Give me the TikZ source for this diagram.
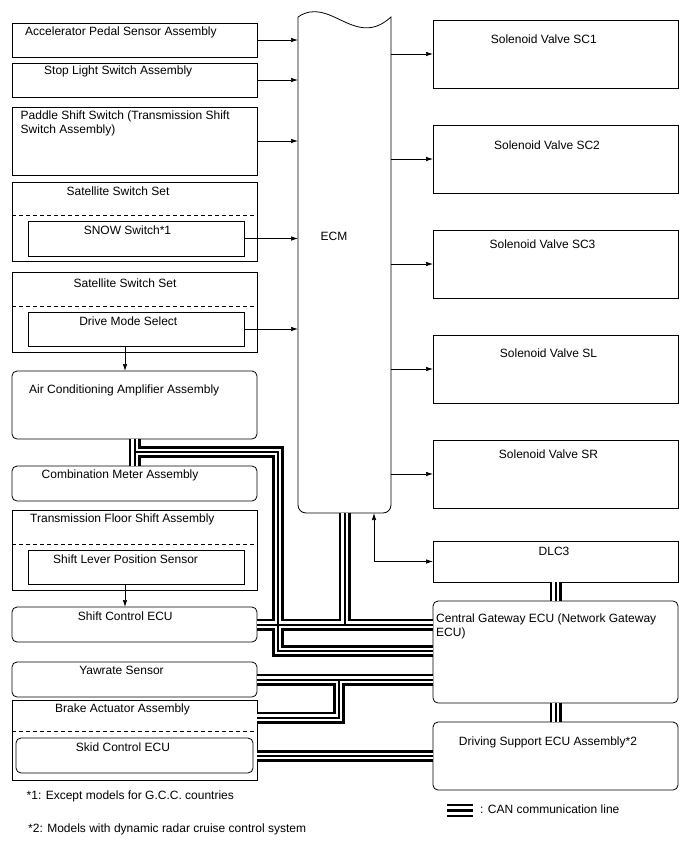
\documentclass[tikz,border=0pt]{standalone}
\usepackage{fontspec}
\setmainfont{Liberation Sans}
\usetikzlibrary{arrows.meta,positioning,calc}

\tikzset{
  box/.style={draw,line width=0.8pt,anchor=north west,inner sep=0pt,outer sep=0pt,minimum width=245pt},
  rbox/.style={box,rounded corners=5pt},
  lbl/.style={inner sep=0pt,font=\fontsize{12}{14}\selectfont},
  sig/.style={line width=0.7pt,-{Latex[length=7pt,width=4.5pt]}},
  dsig/.style={line width=0.7pt,{Latex[length=7pt,width=4.5pt]}-{Latex[length=7pt,width=4.5pt]}},
  sep/.style={line width=0.7pt,dash pattern=on 4pt off 3pt},
  canout/.style={line width=12pt,black},
  canin/.style={line width=6.5pt,white},
  cancore/.style={line width=2pt,black}
}

\begin{document}
\begin{tikzpicture}[x=1pt,y=-1pt]
\useasboundingbox (0,0) rectangle (688,852);
\fill[white] (0,0) rectangle (688,852);

% left column
\node[box,minimum height=34pt] (apps) at (12,23) {};
\node[box,minimum height=34pt] (stop) at (12,63) {};
\node[box,minimum height=68pt] (paddle) at (12,107) {};
\node[box,minimum height=79pt] (sat1) at (12,182) {};
\node[box,minimum width=216pt,minimum height=35pt] (snow) at (28,221) {};
\node[box,minimum height=80pt] (sat2) at (12,272) {};
\node[box,minimum width=216pt,minimum height=34pt] (dms) at (28,312) {};
\node[rbox,minimum height=68pt] (ac) at (12,371) {};
\node[rbox,minimum height=35pt] (meter) at (12,466) {};
\node[box,minimum height=80pt] (tfs) at (12,510) {};
\node[box,minimum width=216pt,minimum height=34pt] (slps) at (28,550) {};
\node[rbox,minimum height=35pt] (shift) at (12,607) {};
\node[rbox,minimum height=35pt] (yaw) at (12,662) {};
\node[box,minimum height=80pt] (brake) at (12,700) {};
\node[rbox,minimum width=237pt,minimum height=35pt] (skid) at (16,738) {};
\draw[sep] (sat1.west |- 0,215) -- (sat1.east |- 0,215);
\draw[sep] (sat2.west |- 0,306) -- (sat2.east |- 0,306);
\draw[sep] (tfs.west |- 0,544) -- (tfs.east |- 0,544);
\draw[sep] (brake.west |- 0,731) -- (brake.east |- 0,731);

\node[lbl,anchor=base west] (apps-t) at (25,35) {Accelerator Pedal Sensor Assembly};
\node[lbl,anchor=base west] (stop-t) at (44,74) {Stop Light Switch Assembly};
\node[lbl,anchor=north west,align=left] (paddle-t) at (20.5,110.3) {Paddle Shift Switch (Transmission Shift\\Switch Assembly)};
\node[lbl,anchor=base] (sat1-t) at (118,195) {Satellite Switch Set};
\node[lbl,anchor=base] (snow-t) at (127.5,234) {SNOW Switch*1};
\node[lbl,anchor=base] (sat2-t) at (125,287) {Satellite Switch Set};
\node[lbl,anchor=base] (dms-t) at (128.3,325) {Drive Mode Select};
\node[lbl,anchor=base west] (ac-t) at (29,393) {Air Conditioning Amplifier Assembly};
\node[lbl,anchor=base west] (meter-t) at (41.5,478) {Combination Meter Assembly};
\node[lbl,anchor=base west] (tfs-t) at (30,522) {Transmission Floor Shift Assembly};
\node[lbl,anchor=base west] (slps-t) at (53,563) {Shift Lever Position Sensor};
\node[lbl,anchor=base] (shift-t) at (125.3,620) {Shift Control ECU};
\node[lbl,anchor=base] (yaw-t) at (121.5,674) {Yawrate Sensor};
\node[lbl,anchor=base] (brake-t) at (122.5,712.5) {Brake Actuator Assembly};
\node[lbl,anchor=base] (skid-t) at (123,751) {Skid Control ECU};
\node[lbl,anchor=base west] (note1) at (26.5,799) {*1: Except models for G.C.C. countries};
\node[lbl,anchor=base west] (note2) at (28,832) {*2: Models with dynamic radar cruise control system};

% ECM
\node[anchor=north west,inner sep=0pt,outer sep=0pt,minimum width=93pt,minimum height=496pt] (ecm) at (298,17) {};
\draw[line width=0.8pt] (ecm.north west) .. controls (330,-5) and (355,50) .. (ecm.north east)
  [rounded corners=8pt] -- (ecm.south east) -- (ecm.south west) [sharp corners] -- (ecm.north west);
\node[lbl,anchor=base] (ecm-t) at (334,240) {ECM};

% right column
\foreach \n/\t/\tx/\ty [count=\i from 0] in {sc1/SC1/543.8/43.3,sc2/SC2/547/149,sc3/SC3/542.5/248,sl/SL/548.5/357,sr/SR/548.5/458}{
  \node[box,minimum height=68pt] (\n) at (433,20+105*\i) {};
  \node[lbl,anchor=base] (\n-t) at (\tx,\ty) {Solenoid Valve \t};
}
\node[box,minimum height=41pt] (dlc) at (433,541) {};
\node[rbox,minimum height=102pt] (cgw) at (433,601) {};
\node[rbox,minimum height=68pt] (dss) at (433,722) {};
\node[lbl,anchor=base] (dlc-t) at (554,555) {DLC3};
\node[lbl,anchor=north west,align=left] (cgw-t) at (436,613.3) {Central Gateway ECU (Network Gateway\\ECU)};
\node[lbl,anchor=base] (dss-t) at (548,745) {Driving Support ECU Assembly*2};

% signal lines
\foreach \n in {apps,stop,paddle,snow,dms}{\draw[sig] (\n.east) -- (\n.east -| ecm.west);}
\foreach \n in {sc1,sc2,sc3,sl,sr}{\draw[sig] (\n.west -| ecm.east) -- (\n.west);}
\draw[sig] ([xshift=-11pt]dms.south) -- ([xshift=-11pt]dms.south |- ac.north);
\draw[sig] ([xshift=-11pt]slps.south) -- ([xshift=-11pt]slps.south |- shift.north);
\draw[dsig] ([xshift=29.5pt]ecm.south) |- (dlc.west);

% CAN lines
\coordinate (can-ac) at (278,452);
\coordinate (can-gw) at (278,651);
\coordinate (can-brk) at (339,717.5);
\foreach \s in {canout,canin,cancore}{
  \draw[\s] (ac.south) -- (meter.north);
  \draw[\s] (ac.south |- can-ac) -- (can-ac) -- (can-gw) -- (can-gw -| cgw.west);
  \draw[\s] (shift.east) -- (shift.east -| cgw.west);
  \draw[\s] (ecm.south) -- (ecm.south |- shift.east);
  \draw[\s] (yaw.east) -- (yaw.east -| cgw.west);
  \draw[\s] (can-brk -| brake.east) -- (can-brk) -- (can-brk |- yaw.east);
  \draw[\s] (dss.west -| brake.east) -- (dss.west);
  \draw[\s] (dlc.south) -- (cgw.north);
  \draw[\s] (cgw.south) -- (dss.north);
}

% legend
\coordinate (leg-a) at (447,810.5);
\coordinate (leg-b) at (473,810.5);
\foreach \c/\w in {black/13,white/8.5,black/2.5}{\draw[line width=\w pt,\c] (leg-a) -- (leg-b);}
\node[lbl,anchor=base west] (leg-t) at (480,813) {: CAN communication line};
\end{tikzpicture}
\end{document}
